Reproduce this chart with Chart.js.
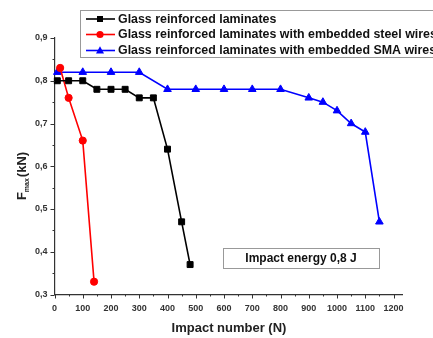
<!DOCTYPE html>
<html>
<head>
<meta charset="utf-8">
<script src="https://cdn.jsdelivr.net/npm/chart.js@4/dist/chart.umd.min.js"></script>
<style>
  html, body { margin: 0; padding: 0; background: #fff; overflow: hidden; }
</style>
</head>
<body>
<canvas id="impactChart" width="433" height="338"></canvas>
<script>
// data
const seriesNames = [
  'Glass reinforced laminates',
  'Glass reinforced laminates with embedded steel wires',
  'Glass reinforced laminates with embedded SMA wires',
];
const glassX = [10, 50, 100, 150, 200, 250, 300, 350, 400, 450, 480];
const glassY = [0.80, 0.80, 0.80, 0.78, 0.78, 0.78, 0.76, 0.76, 0.64, 0.47, 0.37];
const steelX = [20, 50, 100, 140];
const steelY = [0.83, 0.76, 0.66, 0.33];
const smaX = [10, 100, 200, 300, 400, 500, 600, 700, 800, 900, 950, 1000, 1050, 1100, 1150];
const smaY = [0.82, 0.82, 0.82, 0.82, 0.78, 0.78, 0.78, 0.78, 0.78, 0.76, 0.75, 0.73, 0.70, 0.68, 0.47];
const xTicks = [0, 100, 200, 300, 400, 500, 600, 700, 800, 900, 1000, 1100, 1200];
const yTicks = [0.3, 0.4, 0.5, 0.6, 0.7, 0.8, 0.9];

const FONT = "'Liberation Sans', Arial, sans-serif";
const toPoints = (xs, ys) => xs.map((x, i) => ({ x: x, y: ys[i] }));

const styles = [
  { color: '#000000', marker: 'rect', radius: 4.2 },
  { color: '#ff0000', marker: 'circle', radius: 3.6 },
  { color: '#0000ff', marker: 'triangle', radius: 4.4 },
];

// tick marks, titles, legend, note box
const decorations = {
  id: 'decorations',
  afterDraw(chart) {
    const c = chart.ctx;
    const xs = chart.scales.x;
    const ys = chart.scales.y;
    const area = chart.chartArea;
    c.save();
    c.strokeStyle = '#333';
    c.lineWidth = 1;
    // x ticks every 50, major every 100
    for (let v = 0; v <= 1200; v += 50) {
      const px = Math.round(xs.getPixelForValue(v)) + 0.5;
      const len = v % 100 === 0 ? 4 : 2;
      c.beginPath();
      c.moveTo(px, area.bottom);
      c.lineTo(px, area.bottom + len);
      c.stroke();
    }
    // y ticks every 0.05
    for (let i = 0; i <= 12; i++) {
      const v = 0.3 + i * 0.05;
      const py = Math.round(ys.getPixelForValue(v)) + 0.5;
      const len = i % 2 === 0 ? 4 : 2;
      c.beginPath();
      c.moveTo(area.left, py);
      c.lineTo(area.left - len, py);
      c.stroke();
    }

    // x title
    c.fillStyle = '#222';
    c.font = 'bold 13px ' + FONT;
    c.textAlign = 'center';
    c.textBaseline = 'middle';
    c.fillText('Impact number (N)', 229, 328);

    // y title with subscript
    c.save();
    c.translate(21, 176);
    c.rotate(-Math.PI / 2);
    c.textAlign = 'left';
    c.textBaseline = 'alphabetic';
    const big = 'bold 13px ' + FONT;
    const small = 'bold 7px ' + FONT;
    c.font = big;
    const wF = c.measureText('F').width;
    const wU = c.measureText('(kN)').width;
    c.font = small;
    const wM = c.measureText('max').width;
    let x0 = -(wF + wM + 1 + wU) / 2;
    c.font = big;
    c.fillText('F', x0, 5);
    c.font = small;
    c.fillText('max', x0 + wF, 8);
    c.font = big;
    c.fillText('(kN)', x0 + wF + wM + 1, 5);
    c.restore();

    // legend box
    c.fillStyle = '#fff';
    c.fillRect(80.5, 10.5, 360, 47);
    c.strokeStyle = '#999';
    c.strokeRect(80.5, 10.5, 360, 47);
    const rows = [19, 34.5, 50.5];
    chart.data.datasets.forEach((ds, i) => {
      const y = rows[i];
      c.strokeStyle = ds.borderColor;
      c.lineWidth = 1.6;
      c.beginPath();
      c.moveTo(86, y);
      c.lineTo(115, y);
      c.stroke();
      c.fillStyle = ds.borderColor;
      c.beginPath();
      if (ds.pointStyle === 'rect') {
        c.rect(97, y - 3, 6, 6);
      } else if (ds.pointStyle === 'circle') {
        c.arc(100, y, 3.6, 0, Math.PI * 2);
      } else {
        c.moveTo(100, y - 4.2);
        c.lineTo(104, y + 3);
        c.lineTo(96, y + 3);
        c.closePath();
      }
      c.fill();
      c.fillStyle = '#111';
      c.font = 'bold 12.4px ' + FONT;
      c.textAlign = 'left';
      c.textBaseline = 'middle';
      c.fillText(ds.label, 118, y + 0.5);
    });

    // impact energy box
    c.strokeStyle = '#999';
    c.lineWidth = 1;
    c.strokeRect(223.5, 248.5, 156, 20);
    c.fillStyle = '#111';
    c.font = 'bold 12px ' + FONT;
    c.textAlign = 'center';
    c.textBaseline = 'middle';
    c.fillText('Impact energy 0,8 J', 301, 258.5);
    c.restore();
  },
};

const ctx = document.getElementById('impactChart');
new Chart(ctx, {
  type: 'scatter',
  plugins: [decorations],
  data: {
    datasets: [
      toPoints(glassX, glassY),
      toPoints(steelX, steelY),
      toPoints(smaX, smaY),
    ].map((pts, i) => ({
      label: seriesNames[i],
      data: pts,
      showLine: true,
      borderColor: styles[i].color,
      backgroundColor: styles[i].color,
      borderWidth: 1.6,
      pointStyle: styles[i].marker,
      pointRadius: styles[i].radius,
      pointBorderWidth: 1,
      tension: 0,
      clip: false,
    })),
  },
  options: {
    responsive: false,
    animation: false,
    devicePixelRatio: 1,
    layout: { padding: { left: 0, top: 38, right: 31, bottom: 0 } },
    plugins: {
      legend: { display: false },
      tooltip: { enabled: false },
    },
    scales: {
      x: {
        type: 'linear',
        min: 0,
        max: 1230,
        afterBuildTicks: (scale) => { scale.ticks = xTicks.map((v) => ({ value: v })); },
        afterFit: (scale) => { scale.height = 43.5; },
        grid: { display: false, drawTicks: false },
        border: { display: true, color: '#333', width: 1.2 },
        ticks: {
          padding: 9,
          color: '#333',
          maxRotation: 0,
          autoSkip: false,
          font: { family: FONT, size: 9, weight: 'bold' },
          callback: (v) => String(v),
        },
      },
      y: {
        type: 'linear',
        min: 0.3,
        max: 0.9,
        afterBuildTicks: (scale) => { scale.ticks = yTicks.map((v) => ({ value: v })); },
        afterFit: (scale) => { scale.width = 54.5; },
        grid: { display: false, drawTicks: false },
        border: { display: true, color: '#333', width: 1.2 },
        ticks: {
          padding: 7,
          color: '#333',
          autoSkip: false,
          font: { family: FONT, size: 9, weight: 'bold' },
          callback: (v) => v.toFixed(1).replace('.', ','),
        },
      },
    },
  },
});
</script>
</body>
</html>
